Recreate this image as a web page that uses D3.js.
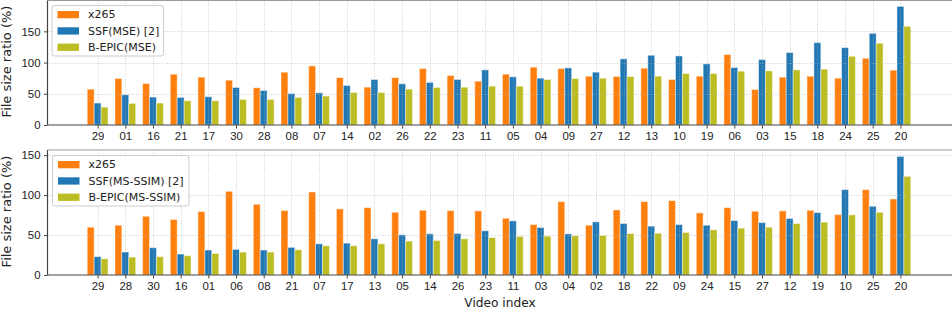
<!DOCTYPE html>
<html>
<head>
<meta charset="utf-8">
<script src="https://cdn.jsdelivr.net/npm/d3@7"></script>
<style>
  body { margin: 0; background: #fff; }
  svg { font-family: "DejaVu Sans", sans-serif; display: block; }
</style>
</head>
<body>
<script>
// ---- data ----
var videosMSE = ["29","01","16","21","17","30","28","08","07","14","02","26","22","23","11","05","04","09","27","12","13","10","19","06","03","15","18","24","25","20"];
var x265MSE   = [57.4,74.5,66.5,81.4,76.6,71.8,59.6,84.6,94.7,76,60.6,76,90.4,79.3,70.2,81.4,92.6,90.4,78.2,77.7,91,72.9,78.2,112.8,56.9,76.6,78.2,75,106.9,87.8];
var ssfMSE    = [35.1,48.4,44.7,44.1,45.2,60.1,55.3,50.5,51.6,63.3,72.9,66,68.1,72.9,88.3,77.1,75,91.5,84.6,105.9,111.7,110.6,97.9,92,104.8,116,131.9,123.9,146.8,189.9];
var epicMSE   = [28.7,34.6,35.1,38.8,38.8,41,41,44.1,46.3,52.1,52.1,57.4,60.1,60.6,62.2,62.2,72.9,74.5,75,77.7,78.2,82.4,82.4,86.2,86.7,88.3,89.4,110.1,130.9,158];

var videosSSIM = ["29","28","30","16","01","06","08","21","07","17","13","05","14","26","23","11","03","04","02","18","22","09","24","15","27","12","19","10","25","20"];
var x265SSIM   = [59.8,62.3,73.5,69.4,79.4,104.7,88.5,80.6,103.9,82.7,84.3,78.5,81,80.6,80.2,71,63.1,91.8,62.3,81.4,91.8,93.1,77.7,84.3,79.8,80.2,81,75.6,106.8,95.1];
var ssfSSIM    = [22.9,28.7,34.1,26.2,31.2,32,31.2,34.5,39,39.9,45.3,50.3,51.5,51.9,55.3,67.7,59.4,51.5,66.5,64.4,61.1,63.1,62.3,68.1,65.6,70.6,78.1,106.8,86,148.3];
var epicSSIM   = [20.4,22.4,22.9,24.1,27,28.7,28.7,31.6,36.6,36.6,39,42.4,43.2,45.3,46.9,48.2,48.6,49,49.4,51.9,52.3,53.2,56.5,58.6,59.8,64.4,66.1,75.2,78.5,123.4];

var yTicks = [0, 50, 100, 150];
var colors = ["#ff7f0e", "#1f77b4", "#bcbd22"];

var W = 952, H = 310;
var svg = d3.select("body").append("svg").attr("width", W).attr("height", H);

function panel(cfg) {
  var left = 47.5, right = 953;
  var x = d3.scaleLinear().domain([-1.81, 30.9]).range([left, right]);
  var y = d3.scaleLinear().domain([0, cfg.ymax]).range([cfg.bottom, cfg.top]);
  var bw = x(0.25) - x(0);
  var g = svg.append("g");

  var series = [cfg.a, cfg.b, cfg.c];
  series.forEach(function(vals, k) {
    g.append("g").selectAll("rect")
      .data(vals)
      .enter().append("rect")
      .attr("x", function(d, i) { return x(i + (k - 1) * 0.25) - bw / 2; })
      .attr("y", function(d) { return y(d); })
      .attr("width", bw)
      .attr("height", function(d) { return y(0) - y(d); })
      .attr("fill", colors[k])
      .attr("stroke", "#fff")
      .attr("stroke-opacity", 0.45)
      .attr("stroke-width", 1);
  });

  // dotted grid on top of bars
  var grid = g.append("g").attr("stroke", "#b0b0b0").attr("stroke-width", 0.8)
    .attr("stroke-dasharray", "1,1.6").attr("opacity", 0.75);
  grid.selectAll(".gy").data(yTicks.slice(1)).enter().append("line")
    .attr("x1", left).attr("x2", right)
    .attr("y1", function(d) { return Math.round(y(d)) + 0.5; })
    .attr("y2", function(d) { return Math.round(y(d)) + 0.5; });
  grid.selectAll(".gx").data(d3.range(cfg.labels.length)).enter().append("line")
    .attr("x1", function(d) { return Math.round(x(d)) + 0.5; })
    .attr("x2", function(d) { return Math.round(x(d)) + 0.5; })
    .attr("y1", cfg.top).attr("y2", cfg.bottom);

  // axes
  var yAxis = d3.axisLeft(y).tickValues(yTicks).tickSize(3.5).tickPadding(3.5);
  var ya = g.append("g").attr("transform", "translate(" + left + ",0)").call(yAxis);
  var xAxis = d3.axisBottom(x).tickValues(d3.range(cfg.labels.length))
    .tickFormat(function(d) { return cfg.labels[d]; }).tickSize(3.5).tickPadding(3.5);
  var xa = g.append("g").attr("transform", "translate(0," + cfg.bottom + ")").call(xAxis);
  [ya, xa].forEach(function(a) {
    a.select(".domain").remove();
    a.selectAll(".tick line").attr("stroke", "#333").attr("stroke-width", 0.9);
    a.selectAll(".tick text").attr("fill", "#222").style("font-size", "11.4px");
  });

  // spines
  g.append("line").attr("x1", left).attr("x2", right).attr("y1", cfg.top).attr("y2", cfg.top)
    .attr("stroke", "#9a9a9a").attr("stroke-width", 1.2);
  g.append("line").attr("x1", left).attr("x2", right).attr("y1", cfg.bottom).attr("y2", cfg.bottom)
    .attr("stroke", "#444").attr("stroke-width", 1.2);
  g.append("line").attr("x1", left).attr("x2", left).attr("y1", cfg.top).attr("y2", cfg.bottom)
    .attr("stroke", "#444").attr("stroke-width", 1.2);

  // y label
  g.append("text")
    .attr("transform", "translate(" + 6 + "," + cfg.labelY + ") rotate(-90)")
    .attr("text-anchor", "middle").attr("dy", "0.35em")
    .style("font-size", "13px").attr("fill", "#222")
    .text("File size ratio (%)");

  // legend
  var lg = g.append("g").attr("transform", "translate(" + cfg.legX + "," + cfg.legY + ")");
  lg.append("rect").attr("width", cfg.legW).attr("height", 50.5).attr("rx", 2.5)
    .attr("fill", "#fff").attr("fill-opacity", 0.85)
    .attr("stroke", "#cccccc").attr("stroke-width", 1);
  cfg.names.forEach(function(n, k) {
    var row = lg.append("g").attr("transform", "translate(0," + (9 + k * 16.3) + ")");
    row.append("rect").attr("x", 5.5).attr("y", -3.5).attr("width", 21.5).attr("height", 7.3)
      .attr("fill", colors[k]);
    row.append("text").attr("x", 36).attr("dy", "0.36em")
      .style("font-size", "11px").attr("fill", "#222").text(n);
  });
}

panel({ top: 0.5, bottom: 125, ymax: 199.4, labels: videosMSE,
        a: x265MSE, b: ssfMSE, c: epicMSE, labelY: 61.5,
        names: ["x265", "SSF(MSE) [2]", "B-EPIC(MSE)"],
        legX: 52, legY: 5.5, legW: 111.5 });

panel({ top: 150, bottom: 275, ymax: 156.4, labels: videosSSIM,
        a: x265SSIM, b: ssfSSIM, c: epicSSIM, labelY: 211.5,
        names: ["x265", "SSF(MS-SSIM) [2]", "B-EPIC(MS-SSIM)"],
        legX: 52.5, legY: 155.5, legW: 136.5 });

svg.append("text").attr("x", 500).attr("y", 302.5).attr("dy", "0.35em")
  .attr("text-anchor", "middle").style("font-size", "12.2px").attr("fill", "#222")
  .text("Video index");
</script>
</body>
</html>
